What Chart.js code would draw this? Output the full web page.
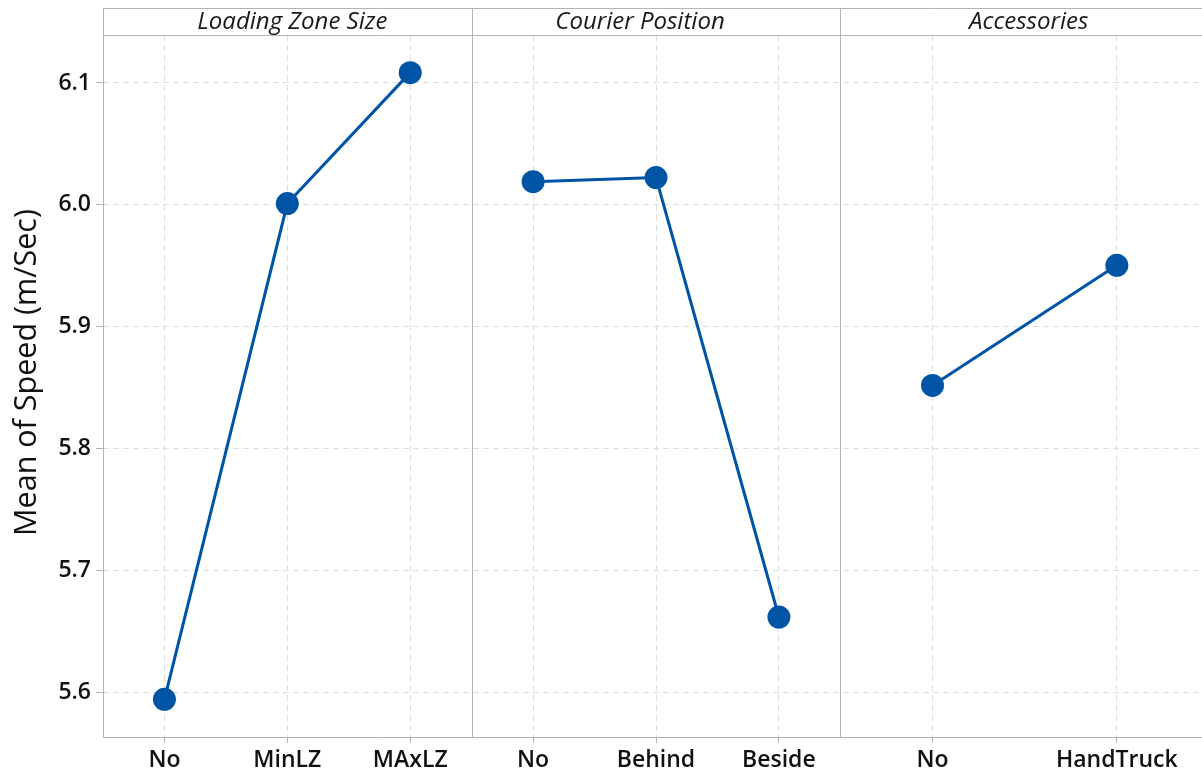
<!DOCTYPE html>
<html>
<head>
<meta charset="utf-8">
<script src="https://cdn.jsdelivr.net/npm/chart.js@4/dist/chart.umd.min.js"></script>
<style>
  html, body { margin: 0; padding: 0; background: #ffffff; overflow: hidden; }
  #wrap { width: 1212px; height: 776px; }
  canvas { display: block; }
</style>
</head>
<body>
<div id="wrap"><canvas id="c" width="1212" height="776"></canvas></div>
<script>
// Main effects of each factor on mean speed
const factorNames = ['Loading Zone Size', 'Courier Position', 'Accessories'];

const zoneLevels = ['No', 'MinLZ', 'MAxLZ'];
const zoneMeans = [5.594, 6.001, 6.1085];

const courierLevels = ['No', 'Behind', 'Beside'];
const courierMeans = [6.019, 6.0224, 5.6616];

const accessoryLevels = ['No', 'HandTruck'];
const accessoryMeans = [5.8517, 5.9503];

const yTicks = [5.6, 5.7, 5.8, 5.9, 6.0, 6.1];
const yTitle = 'Mean of Speed (m/Sec)';

const panels = [
  { levels: zoneLevels, means: zoneMeans },
  { levels: courierLevels, means: courierMeans },
  { levels: accessoryLevels, means: accessoryMeans }
];

// Each panel occupies one unit on the x scale; its levels sit at slot centres.
const levelX = (p, i, n) => p + (i + 0.5) / n;
const xTickPos = [];
const xTickText = {};
panels.forEach((pn, p) => {
  pn.levels.forEach((lab, i) => {
    const x = levelX(p, i, pn.levels.length);
    xTickPos.push(x);
    xTickText[x.toFixed(4)] = lab;
  });
});

const lineColor = '#0054a6';
const frameColor = '#b4b4b4';
const gridColor = '#dedede';
const uiFont = '"Open Sans", "Noto Sans", sans-serif';
// small horizontal nudges of the strip titles
const headerShift = [5, -16, 4];

const datasets = panels.map((pn, p) => ({
  label: factorNames[p],
  data: pn.means.map((v, i) => ({ x: levelX(p, i, pn.levels.length), y: v })),
  borderColor: lineColor,
  backgroundColor: lineColor,
  borderWidth: 3,
  pointRadius: 11.5,
  pointBorderWidth: 0,
  pointBackgroundColor: lineColor,
  tension: 0
}));

const HEADER_TOP = 8;

const panelFrame = {
  id: 'panelFrame',
  afterDraw(chart) {
    const { ctx, chartArea: a, scales } = chart;
    const xs = scales.x;
    ctx.save();
    ctx.strokeStyle = frameColor;
    ctx.lineWidth = 1;
    ctx.setLineDash([]);
    ctx.beginPath();
    // header strip
    ctx.moveTo(a.left, HEADER_TOP + 0.5);
    ctx.lineTo(chart.width, HEADER_TOP + 0.5);
    ctx.moveTo(a.left, Math.round(a.top) + 0.5);
    ctx.lineTo(chart.width, Math.round(a.top) + 0.5);
    // x axis line
    ctx.moveTo(a.left, Math.round(a.bottom) + 0.5);
    ctx.lineTo(chart.width, Math.round(a.bottom) + 0.5);
    // left edge and panel dividers
    for (let p = 0; p < panels.length; p++) {
      const px = Math.round(xs.getPixelForValue(p)) + 0.5;
      ctx.moveTo(px, HEADER_TOP);
      ctx.lineTo(px, a.bottom + 1);
    }
    ctx.stroke();
    // strip titles
    ctx.fillStyle = '#1a1a1a';
    ctx.font = 'italic 400 24px ' + uiFont;
    ctx.textAlign = 'center';
    ctx.textBaseline = 'middle';
    factorNames.forEach((name, p) => {
      const cx = (xs.getPixelForValue(p) + xs.getPixelForValue(p + 1)) / 2 + headerShift[p];
      ctx.fillText(name, cx, (HEADER_TOP + a.top) / 2 + 1);
    });
    // y axis title
    ctx.font = '400 30.5px ' + uiFont;
    ctx.fillStyle = '#111111';
    ctx.translate(27, (HEADER_TOP + a.bottom) / 2);
    ctx.rotate(-Math.PI / 2);
    ctx.fillText(yTitle, 0, 0);
    ctx.restore();
  }
};

new Chart(document.getElementById('c'), {
  type: 'line',
  data: { datasets },
  options: {
    responsive: false,
    animation: false,
    events: [],
    layout: { autoPadding: false, padding: { top: 35, right: 3, left: 0, bottom: 0 } },
    plugins: { legend: { display: false }, tooltip: { enabled: false }, title: { display: false } },
    scales: {
      x: {
        type: 'linear',
        min: 0,
        max: 3,
        afterBuildTicks(scale) { scale.ticks = xTickPos.map(v => ({ value: v })); },
        afterFit(scale) {
          scale.height = 39;
          scale.paddingLeft = 0;
          scale.paddingRight = 0;
        },
        ticks: {
          autoSkip: false,
          maxRotation: 0,
          padding: 4,
          color: '#111111',
          font: { family: uiFont, size: 23, weight: '600' },
          callback: (v) => xTickText[Number(v).toFixed(4)] || ''
        },
        grid: {
          color: gridColor,
          drawTicks: true,
          tickLength: 6,
          tickColor: frameColor,
          tickBorderDash: []
        },
        border: { display: false, dash: [6, 4] }
      },
      y: {
        min: 5.5631,
        max: 6.1394,
        afterBuildTicks(scale) { scale.ticks = yTicks.map(v => ({ value: v })); },
        afterFit(scale) {
          scale.width = 103;
          scale.paddingTop = 0;
          scale.paddingBottom = 0;
        },
        ticks: {
          padding: 5,
          color: '#111111',
          font: { family: uiFont, size: 23, weight: '600' },
          callback: (v) => Number(v).toFixed(1)
        },
        grid: {
          color: gridColor,
          drawTicks: true,
          tickLength: 7,
          tickColor: frameColor,
          tickBorderDash: []
        },
        border: { display: false, dash: [6, 4] }
      }
    }
  },
  plugins: [panelFrame]
});
</script>
</body>
</html>
